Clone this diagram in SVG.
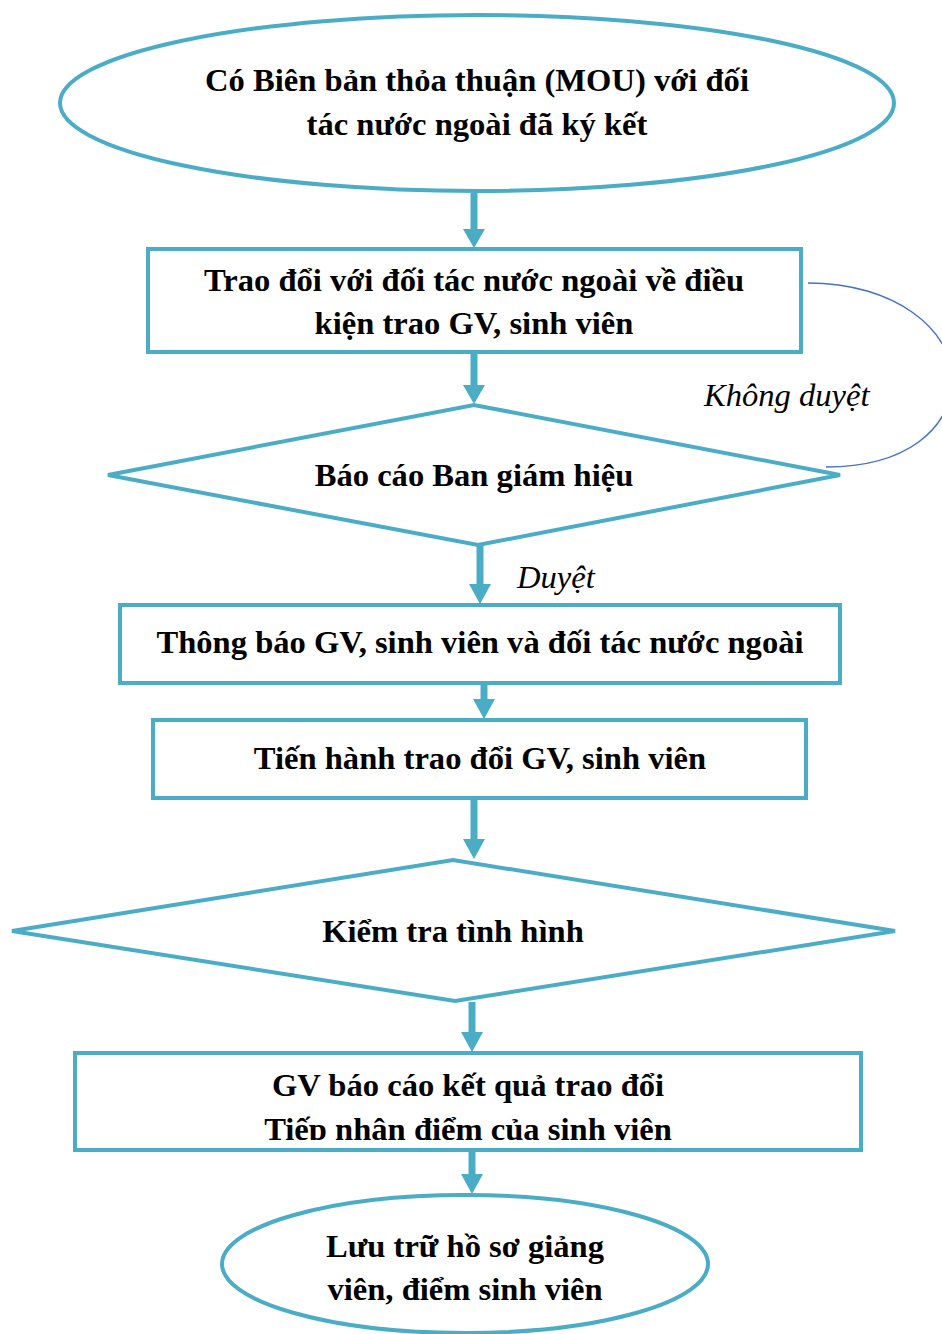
<svg xmlns="http://www.w3.org/2000/svg" width="942" height="1334" viewBox="0 0 942 1334">
<style>
.s{fill:#fff;stroke:#4BACC6;stroke-width:4}
.t{font-family:"Liberation Serif","Times New Roman",serif;font-weight:bold;font-size:32.6px;fill:#000;text-anchor:middle}
.i{font-family:"Liberation Serif","Times New Roman",serif;font-style:italic;font-size:32.6px;fill:#000}
.a{stroke:#4BACC6;stroke-width:7;fill:none}
.h{fill:#4BACC6}
</style>
<defs>
<clipPath id="c4"><rect x="75" y="1053" width="786" height="87"/></clipPath>
</defs>
<rect width="942" height="1334" fill="#fff"/>
<g id="n1"><ellipse class="s" cx="477" cy="103" rx="417" ry="88"/>
<text class="t" x="477" y="91">Có Biên bản thỏa thuận (MOU) với đối</text>
<text class="t" x="477" y="135">tác nước ngoài đã ký kết</text></g>
<g id="n2"><rect class="s" x="148" y="249" width="653" height="103"/>
<text class="t" x="474" y="291">Trao đổi với đối tác nước ngoài về điều</text>
<text class="t" x="474" y="334">kiện trao GV, sinh viên</text></g>
<g id="n3"><polygon class="s" points="108,475 474,405 840,475 478,545"/>
<text class="t" x="474" y="486">Báo cáo Ban giám hiệu</text></g>
<g id="n4"><rect class="s" x="120" y="605" width="720" height="78"/>
<text class="t" x="480" y="653">Thông báo GV, sinh viên và đối tác nước ngoài</text></g>
<g id="n5"><rect class="s" x="153" y="720" width="653" height="78"/>
<text class="t" x="480" y="769">Tiến hành trao đổi GV, sinh viên</text></g>
<g id="n6"><polygon class="s" points="12,931 453,860 895,931 455,1001"/>
<text class="t" x="453" y="942">Kiểm tra tình hình</text></g>
<g id="n7"><rect class="s" x="75" y="1053" width="786" height="97"/>
<g clip-path="url(#c4)">
<text class="t" x="468" y="1096">GV báo cáo kết quả trao đổi</text>
<text class="t" x="468" y="1140">Tiếp nhận điểm của sinh viên</text></g></g>
<g id="n8"><ellipse class="s" cx="465" cy="1264" rx="243" ry="69"/>
<text class="t" x="465" y="1257">Lưu trữ hồ sơ giảng</text>
<text class="t" x="465" y="1300">viên, điểm sinh viên</text></g>
<g id="connectors">
<line class="a" x1="474" y1="193" x2="474" y2="230"/><polygon class="h" points="463,229 485,229 474,248"/>
<line class="a" x1="474" y1="354" x2="474" y2="386"/><polygon class="h" points="463,385 485,385 474,404"/>
<line class="a" x1="480" y1="546" x2="480" y2="585"/><polygon class="h" points="469,584 491,584 480,604"/>
<line class="a" x1="484" y1="685" x2="484" y2="701"/><polygon class="h" points="473,699 495,699 484,719"/>
<line class="a" x1="474" y1="800" x2="474" y2="841"/><polygon class="h" points="463,839 485,839 474,859"/>
<line class="a" x1="472" y1="1002" x2="472" y2="1034"/><polygon class="h" points="461,1032 483,1032 472,1052"/>
<line class="a" x1="472" y1="1152" x2="472" y2="1176"/><polygon class="h" points="461,1174 483,1174 472,1194"/>
<path d="M808,283 C895,283 952,330 952,378 C952,430 905,467 826,467" fill="none" stroke="#4472C4" stroke-width="1.5"/>
<text class="i" x="704" y="406">Không duyệt</text>
<text class="i" x="517" y="588">Duyệt</text>
</g>
</svg>
